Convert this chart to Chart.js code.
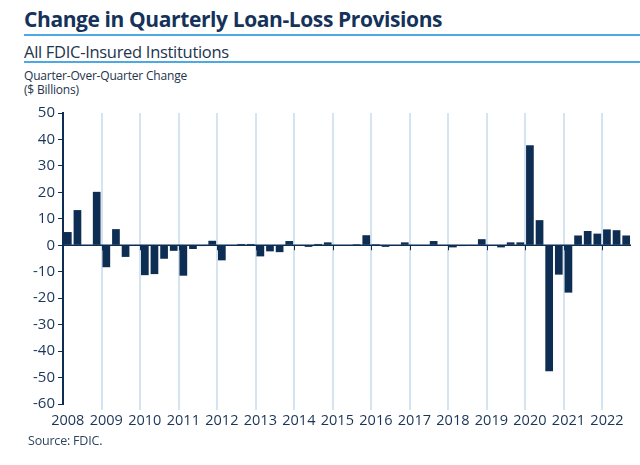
<!DOCTYPE html>
<html>
<head>
<meta charset="utf-8">
<script src="https://cdn.jsdelivr.net/npm/chart.js@4"></script>
<style>
  html, body { margin: 0; padding: 0; background: #fff; }
  body { width: 640px; height: 465px; position: relative; overflow: hidden; font-family: 'Open Sans', sans-serif; }
  .abs { position: absolute; white-space: nowrap; }
  #title { left: 24px; top: 5px; font-size: 21px; font-weight: 700; color: #15325a; letter-spacing: -0.4px; }
  #rule1 { left: 24px; right: 0; top: 34px; height: 2px; background: #4ea9e2; }
  #subtitle { left: 24px; top: 40px; font-size: 16.5px; color: #23344d; letter-spacing: -0.3px; }
  #rule2 { left: 24px; right: 0; top: 61px; height: 1.5px; background: #4ea9e2; }
  #ytitle { left: 24px; top: 69px; font-size: 12px; line-height: 14px; color: #23344d; letter-spacing: -0.2px; }
  #source { left: 28px; top: 432px; font-size: 12.5px; color: #2d4660; letter-spacing: -0.2px; }
  #wrap { left: 0; top: 100px; width: 640px; height: 334px; }
</style>
</head>
<body>
<div id="title" class="abs">Change in Quarterly Loan-Loss Provisions</div>
<div id="rule1" class="abs"></div>
<div id="subtitle" class="abs">All FDIC-Insured Institutions</div>
<div id="rule2" class="abs"></div>
<div id="ytitle" class="abs">Quarter-Over-Quarter Change<br>($ Billions)</div>
<div id="wrap" class="abs"><canvas id="chart" width="640" height="334"></canvas></div>
<div id="source" class="abs">Source: FDIC.</div>

<script>
// ─── Veri: 2008 Q1 – 2022 Q3, çeyreklik değişim ($ milyar) ───
const years = ['2008', '2009', '2010', '2011', '2012', '2013', '2014', '2015',
               '2016', '2017', '2018', '2019', '2020', '2021', '2022'];
const quarters = ['Q1', 'Q2', 'Q3', 'Q4'];
const provisionChange = [
  5.0, 13.3, 0, 20.2,        // 2008
  -8.3, 6.1, -4.4, 0,        // 2009
  -11.3, -10.9, -5.1, -2.1,  // 2010
  -11.5, -1.4, -0.3, 1.7,    // 2011
  -5.7, 0, 0.5, 0.5,         // 2012
  -4.2, -2.3, -2.6, 1.6,     // 2013
  0, -0.6, 0.5, 1.1,         // 2014
  0, 0, 0.4, 3.8,            // 2015
  0.4, -0.6, 0, 1.1,         // 2016
  0, 0, 1.6, 0,              // 2017
  -0.8, -0.3, 0, 2.3,        // 2018
  0, -0.8, 1.1, 1.1,         // 2019
  37.8, 9.5, -47.6, -11.1,   // 2020
  -17.9, 3.7, 5.4, 4.4,      // 2021
  6.0, 5.7, 3.7              // 2022
];
const yTicks = { min: -60, max: 50, step: 10 };

const labels = provisionChange.map((_, i) => years[Math.floor(i / 4)] + ' ' + quarters[i % 4]);

const NAVY = '#0d2d52';
const TICK_TEXT = '#1a3558';
const GRID = '#d6e4f1';

// sıfır çizgisi + yıl sınırlarında küçük işaretler
const zeroLine = {
  id: 'zeroLine',
  afterDatasetsDraw(chart) {
    const { ctx, chartArea } = chart;
    const x = chart.scales.x, y = chart.scales.y;
    const y0 = y.getPixelForValue(0);
    ctx.save();
    ctx.strokeStyle = NAVY;
    ctx.lineWidth = 1.5;
    ctx.beginPath();
    ctx.moveTo(chartArea.left, y0);
    ctx.lineTo(chartArea.right, y0);
    ctx.stroke();
    ctx.lineWidth = 1;
    for (let i = 4; i < labels.length; i += 4) {
      const px = Math.round(x.getPixelForValue(i - 0.5)) + 0.5;
      ctx.beginPath();
      ctx.moveTo(px, y0);
      ctx.lineTo(px, y0 + 5);
      ctx.stroke();
    }
    ctx.restore();
  }
};

new Chart(document.getElementById('chart'), {
  type: 'bar',
  data: {
    labels,
    datasets: [{
      data: provisionChange,
      backgroundColor: NAVY,
      borderWidth: 0,
      barPercentage: 0.8,
      categoryPercentage: 1.0,
    }],
  },
  options: {
    responsive: false,
    animation: false,
    layout: { padding: { top: 13, right: 9, left: 0, bottom: 0 } },
    plugins: { legend: { display: false }, tooltip: { enabled: false } },
    scales: {
      x: {
        offset: true,
        border: { display: false },
        grid: {
          offset: true,
          drawOnChartArea: true,
          lineWidth: 2,
          color: ctx => (ctx.index % 4 === 0 && ctx.index > 0) ? GRID : 'transparent',
          tickColor: ctx => (ctx.index % 4 === 0 && ctx.index > 0) ? GRID : 'transparent',
          tickLength: 6,
        },
        ticks: {
          autoSkip: false,
          maxRotation: 0,
          padding: 2,
          color: TICK_TEXT,
          font: { family: 'Open Sans', size: 14.5 },
          callback: (v, i) => i % 4 === 0 ? years[i / 4] : '',
        },
        afterFit: s => { s.height = 30; },
      },
      y: {
        min: yTicks.min,
        max: yTicks.max,
        border: { display: true, color: NAVY, width: 2 },
        grid: {
          drawOnChartArea: false,
          drawTicks: true,
          tickLength: 5,
          tickColor: NAVY,
        },
        ticks: {
          stepSize: yTicks.step,
          padding: 3,
          color: TICK_TEXT,
          font: { family: 'Open Sans', size: 15 },
        },
        afterFit: s => { s.width = 63; },
      },
    },
  },
  plugins: [zeroLine],
});
</script>
</body>
</html>
